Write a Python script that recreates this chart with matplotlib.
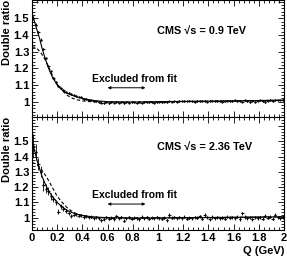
import numpy as np
import matplotlib.pyplot as plt
from matplotlib.ticker import MultipleLocator, FixedLocator, FuncFormatter

plt.rcParams.update({
    'font.family': 'sans-serif',
    'font.sans-serif': ['Liberation Sans', 'DejaVu Sans'],
    'font.weight': 'bold',
    'font.size': 8,
})

# bin centres (0.02 GeV bins)
q_bins = np.arange(0.01, 2.0, 0.02)
half_bin = 0.01

# 0.9 TeV double ratio
ratio_09 = [
    1.500, 1.462, 1.418, 1.372, 1.318, 1.262, 1.214, 1.182, 1.142, 1.118,
    1.094, 1.081, 1.072, 1.058, 1.054, 1.046, 1.041, 1.034, 1.030, 1.027,
    1.019, 1.017, 1.011, 1.008, 1.004, 1.002, 0.998, 0.994, 0.990, 0.996,
    0.993, 0.997, 0.995, 0.998, 0.994, 0.996, 0.993, 0.997, 0.995, 0.998,
    0.996, 0.994, 0.997, 0.995, 0.998, 0.996, 0.999, 0.997, 0.995, 0.998,
    1.000, 0.998, 1.001, 0.999, 1.002, 1.000, 1.003, 1.001, 1.004, 1.002,
    1.005, 1.002, 1.006, 1.003, 1.001, 1.004, 1.002, 1.005, 1.003, 1.001,
    1.004, 1.006, 1.002, 1.005, 1.003, 1.000, 1.004, 1.007, 1.002, 1.005,
    1.008, 1.003, 1.006, 1.001, 1.009, 1.004, 0.997, 1.007, 0.999, 1.006,
    1.009, 1.003, 0.998, 1.007, 1.010, 1.005, 1.011, 1.008, 1.012, 1.010,
]
err_09 = [0.012, 0.010, 0.009, 0.008, 0.007, 0.006] + [0.004] * 94

# 2.36 TeV double ratio
ratio_236 = [
    1.470, 1.430, 1.350, 1.300, 1.215, 1.190, 1.175, 1.140, 1.125, 1.100,
    1.040, 1.075, 1.060, 1.042, 1.028, 1.010, 1.020, 1.024, 1.012, 1.016,
    1.005, 1.010, 1.002, 1.008, 0.998, 1.004, 0.996, 0.985, 0.990, 1.003,
    0.995, 1.000, 0.992, 1.010, 0.998, 1.002, 0.982, 0.997, 1.004, 0.993,
    1.001, 0.996, 0.989, 1.006, 0.997, 1.002, 0.994, 1.000, 0.996, 1.003,
    0.998, 0.993, 1.001, 0.985, 1.018, 0.999, 1.004, 0.996, 1.002, 0.998,
    1.006, 0.994, 1.001, 0.997, 1.004, 0.999, 1.010, 0.995, 1.018, 1.002,
    0.990, 1.005, 0.998, 1.003, 0.996, 1.001, 0.994, 1.006, 0.999, 1.004,
    0.997, 1.008, 0.992, 1.030, 1.005, 0.996, 1.002, 0.989, 1.004, 0.998,
    1.003, 0.995, 1.012, 1.001, 1.007, 0.994, 1.020, 1.002, 0.998, 1.005,
]
err_236 = [0.080, 0.050, 0.040, 0.035, 0.040, 0.030, 0.025, 0.022, 0.020, 0.018,
           0.016, 0.015, 0.014, 0.013, 0.012, 0.012] + [0.010] * 84

# fit curves
q_fit = [0, 0.02, 0.04, 0.06, 0.08, 0.10, 0.12, 0.14, 0.16, 0.18, 0.20, 0.24,
         0.28, 0.32, 0.36, 0.40, 0.45, 0.50, 0.60, 0.80, 1.00, 1.50, 2.00]
fit_exp_09 = [1.53, 1.48, 1.43, 1.38, 1.32, 1.27, 1.225, 1.185, 1.15, 1.125, 1.10, 1.07,
              1.05, 1.038, 1.028, 1.02, 1.012, 1.006, 1.0, 0.998, 1.0, 1.004, 1.009]
fit_gaus_09 = [1.33, 1.327, 1.318, 1.303, 1.283, 1.258, 1.228, 1.195, 1.162, 1.132, 1.106, 1.066,
               1.038, 1.021, 1.011, 1.005, 1.001, 0.999, 0.997, 0.997, 0.999, 1.004, 1.009]
fit_exp_236 = [1.51, 1.44, 1.375, 1.32, 1.27, 1.23, 1.195, 1.165, 1.14, 1.12, 1.10, 1.07,
               1.048, 1.033, 1.022, 1.015, 1.009, 1.005, 1.0, 0.998, 0.999, 1.002, 1.006]
fit_gaus_236 = [1.36, 1.355, 1.345, 1.33, 1.31, 1.285, 1.26, 1.23, 1.20, 1.17, 1.14, 1.10,
                1.065, 1.04, 1.024, 1.013, 1.006, 1.002, 0.999, 0.998, 0.999, 1.002, 1.006]

panels = [
    ('CMS \u221as = 0.9 TeV', ratio_09, err_09, fit_exp_09, fit_gaus_09, (0.91, 1.61), 0.737, 0.323, 0.248),
    ('CMS \u221as = 2.36 TeV', ratio_236, err_236, fit_exp_236, fit_gaus_236, (0.92, 1.66), 0.735, 0.309, 0.229),
]

fig = plt.figure(figsize=(2.87, 2.59), dpi=100)
ax_top = fig.add_axes([0.1115, 0.5494, 0.878, 0.4506])
ax_bot = fig.add_axes([0.1115, 0.1120, 0.878, 0.4374])

fmt = FuncFormatter(lambda v, p: f'{v:g}')

for ax, (title, ratio, err, f_exp, f_gaus, ylim, y_title, y_excl, y_arrow) in zip([ax_top, ax_bot], panels):
    ax.errorbar(q_bins, ratio, yerr=err, xerr=half_bin, fmt='o', color='black', ms=1.6,
                elinewidth=0.6, capsize=0, mew=0)
    ax.plot(q_fit, f_exp, '-', color='black', lw=0.8)
    ax.plot(q_fit, f_gaus, color='black', lw=0.8, linestyle=(0, (3, 2)))

    ax.set_xlim(0, 2)
    ax.set_ylim(*ylim)
    ax.xaxis.set_major_locator(MultipleLocator(0.2))
    ax.xaxis.set_minor_locator(MultipleLocator(0.04))
    ax.yaxis.set_major_locator(FixedLocator([1.0, 1.1, 1.2, 1.3, 1.4, 1.5, 1.6]))
    ax.yaxis.set_minor_locator(MultipleLocator(0.02))
    ax.xaxis.set_major_formatter(fmt)
    ax.yaxis.set_major_formatter(FuncFormatter(lambda v, p: f'{v:g}' if v < 1.55 else ''))
    ax.tick_params(which='both', direction='in', top=True, right=True, width=0.6,
                   labelsize=8, pad=2)
    ax.tick_params(which='major', length=4.5)
    ax.tick_params(which='minor', length=2.5)
    for spine in ax.spines.values():
        spine.set_linewidth(0.8)

    ax.set_ylabel('Double ratio', loc='top', fontsize=8, fontweight='bold', labelpad=1)
    ax.text(0.496, y_title, title, transform=ax.transAxes, ha='left', va='center',
            fontsize=7.8, fontweight='bold')
    ax.text(0.408, y_excl, 'Excluded from fit', transform=ax.transAxes, ha='center',
            va='center', fontsize=7.5, fontweight='bold')
    ax.annotate('', xy=(0.6, y_arrow), xytext=(0.9, y_arrow),
                xycoords=('data', 'axes fraction'),
                arrowprops=dict(arrowstyle='<|-|>', lw=0.7, color='black',
                                mutation_scale=4, shrinkA=0, shrinkB=0))

ax_top.tick_params(labelbottom=False)
ax_bot.set_xlabel('Q (GeV)', loc='right', fontsize=8, fontweight='bold', labelpad=2)

plt.savefig('out.png', dpi=100)
